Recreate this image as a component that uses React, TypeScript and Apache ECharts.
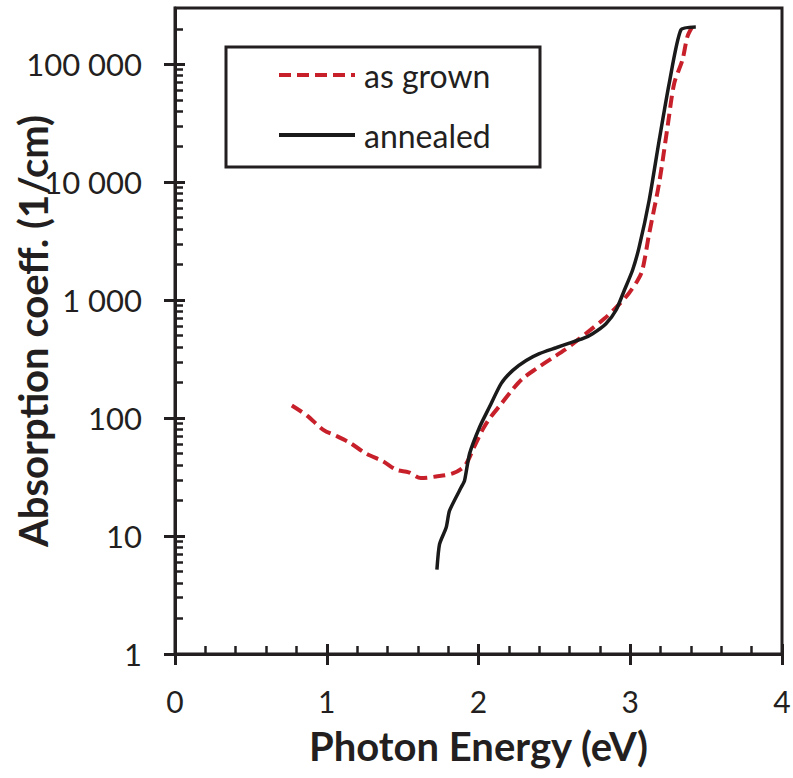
import React, { useEffect, useRef } from "react";
import * as echarts from "echarts";

// Photon energy (eV) and absorption coefficient (1/cm)
const asGrownEnergy = [0.77, 0.87, 0.98, 1.06, 1.15, 1.26, 1.37, 1.46, 1.54, 1.62, 1.72, 1.83, 1.91, 1.97, 2.03, 2.08, 2.15, 2.22, 2.29, 2.38, 2.48, 2.57, 2.65, 2.74, 2.83, 2.91, 2.99, 3.05, 3.08, 3.125, 3.19, 3.246, 3.29, 3.344, 3.377, 3.41];
const asGrownAlpha = [128, 105, 79, 71, 62, 50, 43, 36.4, 34.7, 31, 32, 34, 39.5, 56.6, 81, 102, 132, 172, 216, 262, 319, 380, 456, 562, 698, 875, 1140, 1480, 1800, 3680, 9770, 29600, 69200, 109000, 172000, 209000];

const annealedEnergy = [1.726, 1.743, 1.787, 1.809, 1.886, 1.908, 1.941, 2.007, 2.072, 2.149, 2.226, 2.314, 2.401, 2.511, 2.599, 2.686, 2.752, 2.84, 2.906, 2.961, 3.015, 3.059, 3.125, 3.191, 3.257, 3.334, 3.432];
const annealedAlpha = [5.2, 8.5, 11.8, 16.4, 25.9, 29.5, 49.8, 83.7, 124, 196, 254, 308, 352, 395, 433, 471, 520, 632, 821, 1213, 1795, 2830, 7060, 22800, 69200, 196000, 207000];

const seriesNames = ["as grown", "annealed"];
const yMajorTicks = [1, 10, 100, 1000, 10000, 100000];
const yMinorTicks = [2, 3, 4, 5, 6, 7, 8, 9, 20, 30, 40, 50, 60, 70, 80, 90, 200, 300, 400, 500, 600, 700, 800, 900, 2000, 3000, 4000, 5000, 6000, 7000, 8000, 9000, 20000, 30000, 40000, 50000, 60000, 70000, 80000, 90000, 200000];
const xTitle = "Photon Energy (eV)";
const yTitle = "Absorption coeff. (1/cm)";

const INK = "#231f20";
const RED = "#c8202a";
const FONT = "Lato";

function fmtThousands(v: number): string {
  return String(Math.round(v)).replace(/\B(?=(\d{3})+(?!\d))/g, " ");
}

export default function App() {
  const ref = useRef<HTMLDivElement>(null);
  useEffect(() => {
    if (!ref.current) return;
    const chart = echarts.init(ref.current, null, { renderer: "svg" });
    const xBase = {
      type: "value" as const,
      min: 0,
      max: 4,
      interval: 1,
      position: "bottom" as const,
      splitLine: { show: false },
    };
    const yBase = {
      type: "log" as const,
      logBase: 10,
      min: 1,
      max: 300000,
      position: "left" as const,
      splitLine: { show: false },
    };
    chart.setOption({
      animation: false,
      backgroundColor: "#ffffff",
      grid: {
        left: 175,
        right: 11,
        top: 8,
        bottom: 124,
        containLabel: false,
        outerBoundsMode: "none",
        show: true,
        borderColor: INK,
        borderWidth: 3,
        backgroundColor: "transparent",
      },
      xAxis: [
        {
          ...xBase,
          axisLine: { show: true, onZero: false, lineStyle: { color: INK, width: 3 } },
          axisTick: { show: true, inside: true, length: 10, lineStyle: { color: INK, width: 3 } },
          minorTick: { show: true, splitNumber: 5, length: 8, lineStyle: { color: INK, width: 2.5 } },
          axisLabel: { show: true, margin: 32, fontSize: 30, fontFamily: FONT, color: INK },
          name: xTitle,
          nameLocation: "middle",
          nameGap: 72,
          nameMoveOverlap: false,
          nameTextStyle: { fontSize: 40, fontWeight: "bold", fontFamily: FONT, color: INK },
        },
        {
          ...xBase,
          axisLine: { show: false, onZero: false },
          axisTick: { show: true, inside: false, length: 11, lineStyle: { color: INK, width: 3 } },
          axisLabel: { show: false },
        },
      ],
      yAxis: [
        {
          ...yBase,
          axisLine: { show: true, onZero: false, lineStyle: { color: INK, width: 3 } },
          axisTick: { show: true, inside: true, length: 10, customValues: yMajorTicks, lineStyle: { color: INK, width: 3 } },
          axisLabel: {
            show: true,
            customValues: yMajorTicks,
            margin: 33,
            fontSize: 31,
            fontFamily: FONT,
            color: INK,
            formatter: (v: number) => fmtThousands(v),
          },
          name: yTitle,
          nameLocation: "middle",
          nameGap: 122,
          nameMoveOverlap: false,
          nameTextStyle: { fontSize: 40, fontWeight: "bold", fontFamily: FONT, color: INK },
        },
        {
          ...yBase,
          axisLine: { show: false, onZero: false },
          axisTick: { show: true, inside: true, length: 8, customValues: yMinorTicks, lineStyle: { color: INK, width: 2.5 } },
          axisLabel: { show: false },
        },
        {
          ...yBase,
          axisLine: { show: false, onZero: false },
          axisTick: { show: true, inside: false, length: 11, customValues: yMajorTicks, lineStyle: { color: INK, width: 3 } },
          axisLabel: { show: false },
        },
      ],
      legend: {
        show: true,
        orient: "vertical",
        left: 277,
        top: 59,
        padding: 0,
        itemWidth: 76,
        itemHeight: 14,
        itemGap: 28,
        itemStyle: { opacity: 0 },
        lineStyle: { width: 4 },
        textStyle: { fontSize: 32, fontFamily: FONT, color: INK, padding: [0, 0, 0, 4] },
        data: seriesNames,
      },
      graphic: [
        {
          type: "rect",
          shape: { x: 226, y: 47, width: 314, height: 120 },
          style: { fill: "none", stroke: INK, lineWidth: 3 },
          silent: true,
        },
      ],
      series: [
        {
          name: seriesNames[0],
          type: "line",
          xAxisIndex: 0,
          yAxisIndex: 0,
          data: asGrownEnergy.map((e, i) => [e, asGrownAlpha[i]]),
          showSymbol: false,
          symbol: "none",
          smooth: 0.3,
          lineStyle: { color: RED, width: 4, type: [12, 6] },
          itemStyle: { color: RED },
        },
        {
          name: seriesNames[1],
          type: "line",
          xAxisIndex: 0,
          yAxisIndex: 0,
          data: annealedEnergy.map((e, i) => [e, annealedAlpha[i]]),
          showSymbol: false,
          symbol: "none",
          smooth: 0.2,
          lineStyle: { color: "#1a1a1a", width: 3.5, type: "solid" },
          itemStyle: { color: "#1a1a1a" },
        },
      ],
    });
    return () => chart.dispose();
  }, []);
  return (
    <div
      ref={ref}
      style={{ position: "fixed", left: 0, top: 0, width: 793, height: 778, background: "#fff" }}
    />
  );
}
